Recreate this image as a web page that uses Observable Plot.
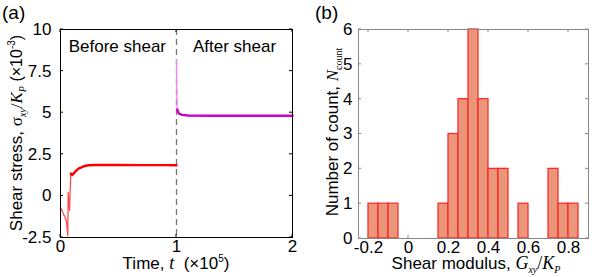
<!DOCTYPE html>
<html><head><meta charset="utf-8">
<script src="https://cdn.jsdelivr.net/npm/d3@7"></script>
<script src="https://cdn.jsdelivr.net/npm/@observablehq/plot@0.6"></script>
<style>
html,body{margin:0;padding:0;background:#fff}
body{width:599px;height:277px;position:relative;overflow:hidden;font-family:"Liberation Sans",Arial,sans-serif}
#a,#b{position:absolute;top:0}
#a{left:0}
#b{left:300px}
</style></head><body>
<div id="a"></div><div id="b"></div>
<script>
// ---- Panel (a): shear stress vs time ----
const timeTicks = [0, 1, 2];
const stressTicks = [-2.5, 0, 2.5, 5, 7.5, 10];
const beforeT = [0, 0.02, 0.04, 0.052, 0.063, 0.066, 0.072, 0.078, 0.085, 0.089];
const beforeS = [-0.66, -1.0, -1.3, -1.58, -2.4, 0.22, -0.3, -0.88, 0.6, 1.35];
const beforeT2 = [0.089, 0.1, 0.12, 0.14, 0.16, 0.2, 0.24, 0.3, 0.5, 0.7, 0.9, 1.0];
const beforeS2 = [1.35, 1.25, 1.4, 1.55, 1.66, 1.78, 1.84, 1.86, 1.86, 1.85, 1.85, 1.84];
const afterT = [1.0, 1.003, 1.006];
const afterS = [8.2, 6.0, 5.2];
const afterT2 = [1.006, 1.02, 1.05, 1.1, 1.3, 1.6, 2.0];
const afterS2 = [5.2, 4.95, 4.87, 4.83, 4.82, 4.82, 4.82];
const phaseLabels = ["Before shear", "After shear"];

// ---- Panel (b): histogram of shear modulus ----
const binLo = [-0.2, -0.15, -0.1, -0.05, 0, 0.05, 0.1, 0.15, 0.2, 0.25, 0.3, 0.35, 0.4, 0.45, 0.5, 0.55, 0.6, 0.65, 0.7, 0.75, 0.8];
const binHi = [-0.15, -0.1, -0.05, 0, 0.05, 0.1, 0.15, 0.2, 0.25, 0.3, 0.35, 0.4, 0.45, 0.5, 0.55, 0.6, 0.65, 0.7, 0.75, 0.8, 0.85];
const counts = [1, 1, 1, 0, 0, 0, 0, 1, 3, 4, 6, 4, 2, 2, 0, 1, 0, 0, 2, 1, 1];
const modTicks = [-0.2, 0, 0.2, 0.4, 0.6, 0.8];
const modTickLabels = ["-0.2", "0", "0.2", "0.4", "0.6", "0.8"];
const countTicks = [0, 1, 2, 3, 4, 5, 6];

const toRows = (xs, ys) => xs.map((x, i) => ({x, y: ys[i]}));
const font = "'Liberation Sans', Arial, sans-serif";
const serif = "'Liberation Serif', 'Times New Roman', serif";
const style = {fontFamily: font, fontSize: "17px", color: "#000", background: "transparent", overflow: "visible"};

const chartA = Plot.plot({
  width: 300, height: 277,
  marginLeft: 60, marginRight: 8, marginTop: 29, marginBottom: 40,
  style,
  x: {domain: [0, 2], ticks: timeTicks, tickFormat: d => String(d), tickSize: 0, tickPadding: 2, label: null},
  y: {domain: [-2.5, 10], ticks: stressTicks, tickFormat: d => String(d), tickSize: 0, tickPadding: 9, label: null},
  marks: [
    Plot.ruleX([1], {stroke: "#777", strokeWidth: 1.3, strokeDasharray: "6,4"}),
    Plot.line(toRows(beforeT, beforeS), {x: "x", y: "y", stroke: "#ff5050", strokeWidth: 1.3}),
    Plot.line(toRows(beforeT2, beforeS2), {x: "x", y: "y", stroke: "#ff0000", strokeWidth: 2.4}),
    Plot.line(toRows(afterT, afterS), {x: "x", y: "y", stroke: "#ee88ee", strokeWidth: 1.3}),
    Plot.line(toRows(afterT2, afterS2), {x: "x", y: "y", stroke: "#cc00cc", strokeWidth: 2.4}),
    Plot.text([phaseLabels[0]], {x: 0.49, y: 8.95, text: d => d, fontSize: 17}),
    Plot.text([phaseLabels[1]], {x: 1.5, y: 8.95, text: d => d, fontSize: 17}),
    Plot.frame({stroke: "#000", strokeWidth: 1})
  ]
});

const chartB = Plot.plot({
  width: 299, height: 277,
  marginLeft: 58, marginRight: 11, marginTop: 29, marginBottom: 39,
  style,
  x: {domain: [-0.25, 0.9], ticks: modTicks, tickFormat: (d, i) => modTickLabels[i], tickSize: 0, tickPadding: 2, label: null},
  y: {domain: [0, 6], ticks: countTicks, tickFormat: d => String(d), tickSize: 0, tickPadding: 6, label: null},
  marks: [
    Plot.rectY(binLo.map((lo, i) => ({lo, hi: binHi[i], n: counts[i]})),
      {x1: "lo", x2: "hi", y: "n", fill: "#e9967a", stroke: "#ff2020", strokeWidth: 1.2}),
    Plot.frame({stroke: "#888", strokeWidth: 1})
  ]
});

document.getElementById("a").appendChild(chartA);
document.getElementById("b").appendChild(chartB);

// inward tick marks using the charts' own scales
function inwardTicks(chart, xt, yt, color) {
  const sx = chart.scale("x"), sy = chart.scale("y");
  const g = d3.select(chart).append("g").attr("stroke", color).attr("stroke-width", 1);
  const x0 = sx.apply(sx.domain[0]), y0 = sy.apply(sy.domain[0]);
  const x1 = sx.apply(sx.domain[1]), y1 = sy.apply(sy.domain[1]);
  for (const v of yt) {
    const py = sy.apply(v);
    g.append("line").attr("x1", x0).attr("x2", x0 + 3).attr("y1", py).attr("y2", py);
    g.append("line").attr("x1", x1).attr("x2", x1 - 3).attr("y1", py).attr("y2", py);
  }
  for (const v of xt) {
    const px = sx.apply(v);
    g.append("line").attr("x1", px).attr("x2", px).attr("y1", y0).attr("y2", y0 - 3);
    g.append("line").attr("x1", px).attr("x2", px).attr("y1", y1).attr("y2", y1 + 3);
  }
}
inwardTicks(chartA, timeTicks, stressTicks, "#000");
inwardTicks(chartB, modTicks, countTicks, "#888");

// rich-text labels
function rich(svg, x, y, rot, parts) {
  const t = d3.select(svg).append("text")
    .attr("transform", `translate(${x},${y})` + (rot ? ` rotate(${rot})` : ""))
    .attr("text-anchor", "middle").attr("fill", "#000");
  for (const p of parts) {
    t.append("tspan").text(p.s)
      .attr("font-family", p.serif ? serif : font)
      .attr("font-style", p.it ? "italic" : "normal")
      .attr("font-size", p.size || 17)
      .attr("dy", p.dy || 0);
  }
}
rich(chartA, 22, 133, -90, [
  {s: "Shear stress, "},
  {s: "σ", serif: true, size: 17},
  {s: "xy", serif: true, it: true, size: 10, dy: 4},
  {s: "/", serif: true, size: 17, dy: -4},
  {s: "K", serif: true, it: true, size: 17},
  {s: "P", serif: true, it: true, size: 10, dy: 4},
  {s: "\u00a0(×10", size: 16, dy: -4},
  {s: "-3", size: 10, dy: -7},
  {s: ")", size: 16, dy: 7}
]);
rich(chartA, 176, 269, 0, [
  {s: "Time, "},
  {s: "t", serif: true, it: true, size: 18},
  {s: "\u00a0\u00a0(×10"},
  {s: "5", size: 10, dy: -7},
  {s: ")", dy: 7}
]);
rich(chartB, 38, 132, -90, [
  {s: "Number of count, "},
  {s: "N", serif: true, it: true, size: 17},
  {s: "count", serif: true, size: 10, dy: 4}
]);
rich(chartB, 176, 269, 0, [
  {s: "Shear modulus, "},
  {s: "G", serif: true, it: true, size: 18},
  {s: "xy", serif: true, it: true, size: 10, dy: 4},
  {s: "/", serif: true, size: 18, dy: -4},
  {s: "K", serif: true, it: true, size: 18},
  {s: "P", serif: true, it: true, size: 10, dy: 4}
]);
d3.select(chartA).append("text").attr("x", 2).attr("y", 19).attr("text-anchor", "start").attr("font-size", 19).attr("font-family", font).text("(a)");
d3.select(chartB).append("text").attr("x", 15).attr("y", 19).attr("text-anchor", "start").attr("font-size", 19).attr("font-family", font).text("(b)");
</script>
</body></html>
